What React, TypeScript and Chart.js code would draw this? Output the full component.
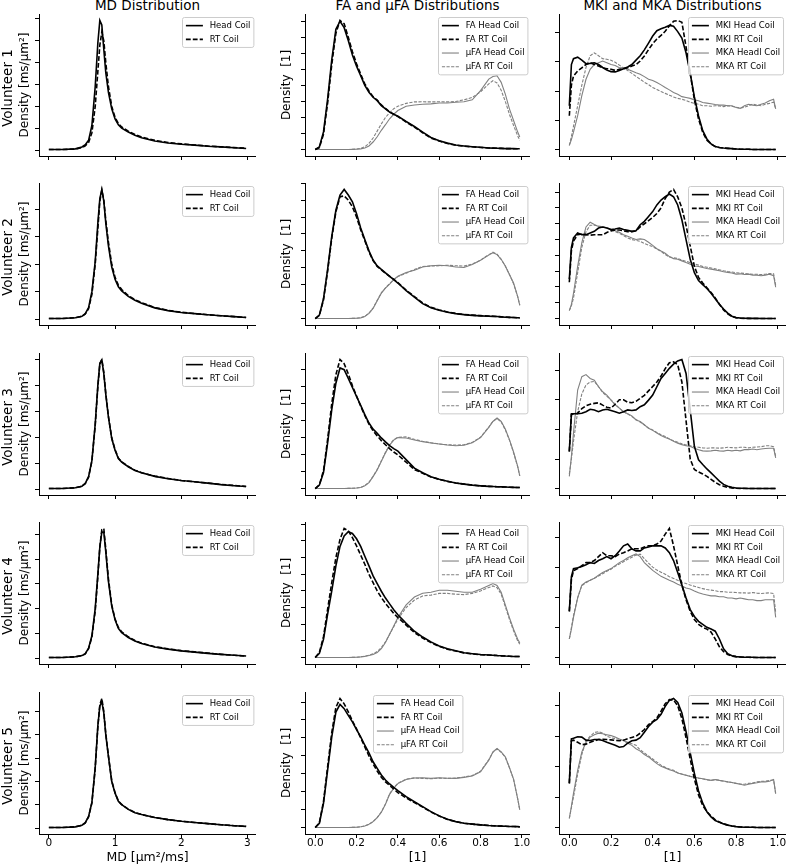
import React, { useEffect, useRef } from "react";
import { Chart, registerables } from "chart.js";

Chart.register(...registerables);

const FONT = '"DejaVu Sans", "Liberation Sans", sans-serif';

// ---------------- texts ----------------
const columnTitles = ["MD Distribution", "FA and µFA Distributions", "MKI and MKA Distributions"];
const volunteerLabels = ["Volunteer 1", "Volunteer 2", "Volunteer 3", "Volunteer 4", "Volunteer 5"];
const yTitles = ["Density [ms/µm²]", "Density  [1]", ""];
const xTitles = ["MD [µm²/ms]", "[1]", "[1]"];
const mdLabels = ["Head Coil", "RT Coil"];
const faLabels = ["FA Head Coil", "FA RT Coil", "µFA Head Coil", "µFA RT Coil"];
const mkLabels = ["MKI Head Coil", "MKI RT Coil", "MKA Headl Coil", "MKA RT Coil"];

// ---------------- x grids ----------------
const mdX = [0, 0.2, 0.4, 0.5, 0.55, 0.6, 0.65, 0.7, 0.74, 0.77, 0.8, 0.83, 0.86, 0.9, 0.95, 1.0, 1.05, 1.1, 1.2, 1.3, 1.4, 1.6, 1.8, 2.0, 2.2, 2.4, 2.6, 2.8, 2.98];
const faX = [0, 0.02, 0.04, 0.06, 0.08, 0.1, 0.12, 0.14, 0.16, 0.18, 0.2, 0.22, 0.24, 0.26, 0.28, 0.3, 0.32, 0.34, 0.36, 0.38, 0.4, 0.44, 0.48, 0.52, 0.56, 0.6, 0.64, 0.68, 0.72, 0.76, 0.8, 0.84, 0.86, 0.88, 0.9, 0.92, 0.94, 0.96, 0.98, 0.99];
const mkX = [0, 0.01, 0.02, 0.04, 0.06, 0.08, 0.1, 0.12, 0.14, 0.16, 0.18, 0.2, 0.22, 0.24, 0.26, 0.28, 0.3, 0.32, 0.34, 0.36, 0.38, 0.4, 0.42, 0.44, 0.46, 0.48, 0.5, 0.52, 0.54, 0.56, 0.58, 0.6, 0.62, 0.64, 0.66, 0.68, 0.7, 0.72, 0.74, 0.76, 0.78, 0.8, 0.82, 0.84, 0.86, 0.88, 0.9, 0.92, 0.94, 0.96, 0.98, 0.99];

// ---------------- MD ----------------
const md1Head = [0.03, 0.03, 0.06, 0.15, 0.25, 0.45, 1.13, 2.9, 4.9, 5.93, 5.73, 4.6, 3.54, 2.64, 1.89, 1.43, 1.16, 1.01, 0.83, 0.68, 0.57, 0.42, 0.33, 0.27, 0.23, 0.18, 0.15, 0.11, 0.08];
const md1RT = [0.03, 0.03, 0.05, 0.12, 0.2, 0.35, 0.8, 2.0, 3.6, 4.8, 5.4, 5.0, 4.0, 2.9, 2.0, 1.5, 1.22, 1.06, 0.87, 0.72, 0.6, 0.45, 0.35, 0.29, 0.24, 0.19, 0.15, 0.12, 0.09];
const md2Head = [0.02, 0.02, 0.05, 0.1, 0.2, 0.42, 1.0, 2.1, 3.5, 4.4, 4.73, 4.3, 3.5, 2.67, 1.9, 1.45, 1.18, 1.03, 0.83, 0.69, 0.58, 0.41, 0.31, 0.24, 0.2, 0.16, 0.12, 0.09, 0.06];
const md2RT = [0.02, 0.02, 0.05, 0.1, 0.19, 0.38, 0.9, 2.0, 3.3, 4.3, 4.7, 4.35, 3.6, 2.8, 2.0, 1.52, 1.24, 1.08, 0.86, 0.71, 0.6, 0.42, 0.32, 0.25, 0.2, 0.16, 0.12, 0.09, 0.06];
const md3Head = [0.02, 0.02, 0.05, 0.11, 0.22, 0.48, 1.1, 2.5, 4.0, 4.85, 4.98, 4.45, 3.65, 2.77, 1.95, 1.5, 1.18, 1.04, 0.86, 0.72, 0.63, 0.49, 0.4, 0.33, 0.28, 0.23, 0.17, 0.13, 0.1];
const md3RT = [0.02, 0.02, 0.05, 0.11, 0.21, 0.46, 1.08, 2.45, 3.95, 4.82, 5.0, 4.5, 3.68, 2.8, 1.97, 1.52, 1.2, 1.05, 0.87, 0.73, 0.63, 0.5, 0.41, 0.33, 0.28, 0.23, 0.18, 0.14, 0.1];
const md4Head = [0.02, 0.02, 0.05, 0.1, 0.18, 0.4, 0.9, 2.0, 3.4, 4.5, 5.1, 5.1, 4.3, 3.1, 2.1, 1.55, 1.2, 1.03, 0.83, 0.69, 0.59, 0.45, 0.36, 0.29, 0.24, 0.19, 0.15, 0.11, 0.08];
const md4RT = [0.02, 0.02, 0.05, 0.1, 0.17, 0.38, 0.85, 1.9, 3.3, 4.5, 5.2, 5.25, 4.4, 3.2, 2.15, 1.58, 1.24, 1.06, 0.86, 0.71, 0.6, 0.46, 0.37, 0.3, 0.25, 0.2, 0.15, 0.11, 0.08];
const md5Head = [0.02, 0.02, 0.05, 0.12, 0.23, 0.5, 1.1, 2.6, 4.4, 5.25, 5.43, 4.95, 4.0, 3.07, 2.0, 1.5, 1.15, 1.0, 0.8, 0.66, 0.58, 0.45, 0.36, 0.29, 0.24, 0.19, 0.14, 0.1, 0.07];
const md5RT = [0.02, 0.02, 0.05, 0.12, 0.22, 0.48, 1.08, 2.55, 4.35, 5.3, 5.57, 5.0, 4.05, 3.1, 2.02, 1.52, 1.16, 1.01, 0.81, 0.67, 0.58, 0.45, 0.36, 0.29, 0.24, 0.19, 0.14, 0.1, 0.07];

// ---------------- FA / µFA ----------------
const fa1Head = [0, 0.16, 1.1, 3.15, 5.6, 7.5, 8.0, 7.6, 6.8, 5.9, 5.2, 4.6, 4.0, 3.57, 3.26, 3.05, 2.74, 2.54, 2.33, 2.2, 2.08, 1.75, 1.44, 1.09, 0.75, 0.55, 0.4, 0.28, 0.22, 0.17, 0.14, 0.1, 0.09, 0.08, 0.07, 0.06, 0.06, 0.06, 0.05, 0.05];
const fa1RT = [0, 0.12, 0.95, 2.9, 5.3, 7.25, 8.05, 7.85, 7.0, 6.1, 5.35, 4.7, 4.1, 3.65, 3.3, 3.08, 2.78, 2.56, 2.35, 2.2, 2.06, 1.72, 1.4, 1.05, 0.72, 0.53, 0.38, 0.27, 0.21, 0.17, 0.13, 0.1, 0.09, 0.08, 0.07, 0.06, 0.06, 0.05, 0.05, 0.05];
const ufa1Head = [0, 0, 0, 0, 0, 0, 0, 0, 0, 0.01, 0.02, 0.04, 0.1, 0.22, 0.47, 0.8, 1.2, 1.55, 1.92, 2.2, 2.43, 2.7, 2.78, 2.82, 2.85, 2.9, 2.9, 2.95, 2.98, 3.1, 3.67, 4.39, 4.56, 4.6, 4.19, 3.46, 2.54, 1.81, 1.09, 0.78];
const ufa1RT = [0, 0, 0, 0, 0, 0, 0, 0, 0, 0.01, 0.03, 0.07, 0.17, 0.38, 0.72, 1.15, 1.6, 2.0, 2.3, 2.55, 2.7, 2.88, 2.97, 2.98, 2.97, 2.98, 2.97, 3.0, 3.1, 3.25, 3.6, 4.1, 4.29, 4.15, 3.7, 3.0, 2.2, 1.5, 0.85, 0.58];
const fa2Head = [0, 0.2, 1.17, 2.9, 4.86, 6.4, 7.3, 7.63, 7.3, 6.9, 6.2, 5.35, 4.67, 4.0, 3.46, 3.11, 2.9, 2.7, 2.49, 2.3, 2.1, 1.65, 1.26, 0.88, 0.64, 0.49, 0.37, 0.29, 0.23, 0.19, 0.16, 0.14, 0.13, 0.12, 0.1, 0.08, 0.07, 0.06, 0.05, 0.04];
const fa2RT = [0, 0.18, 1.1, 2.8, 4.75, 6.3, 7.2, 7.25, 7.0, 6.6, 6.0, 5.25, 4.6, 3.95, 3.42, 3.08, 2.88, 2.68, 2.5, 2.32, 2.12, 1.68, 1.3, 0.92, 0.67, 0.51, 0.39, 0.3, 0.24, 0.2, 0.17, 0.15, 0.14, 0.12, 0.1, 0.09, 0.07, 0.06, 0.05, 0.04];
const ufa2Head = [0, 0, 0, 0, 0, 0, 0, 0, 0, 0.01, 0.02, 0.04, 0.12, 0.3, 0.6, 1.05, 1.5, 1.8, 2.04, 2.3, 2.5, 2.72, 2.85, 3.05, 3.12, 3.15, 3.12, 3.05, 3.02, 3.2, 3.45, 3.75, 3.89, 3.78, 3.5, 3.11, 2.6, 2.1, 1.3, 0.78];
const ufa2RT = [0, 0, 0, 0, 0, 0, 0, 0, 0, 0.01, 0.02, 0.05, 0.13, 0.32, 0.62, 1.08, 1.52, 1.82, 2.06, 2.3, 2.48, 2.68, 2.9, 3.08, 3.1, 3.12, 3.15, 3.12, 3.1, 3.22, 3.45, 3.78, 3.92, 3.8, 3.5, 3.1, 2.6, 2.05, 1.3, 0.8];
const fa3Head = [0, 0.2, 0.94, 2.69, 4.64, 6.2, 7.1, 7.0, 6.49, 5.95, 5.42, 4.9, 4.35, 3.86, 3.5, 3.25, 2.98, 2.75, 2.53, 2.35, 2.2, 1.7, 1.2, 0.93, 0.7, 0.55, 0.43, 0.33, 0.26, 0.2, 0.16, 0.13, 0.12, 0.11, 0.1, 0.09, 0.08, 0.07, 0.06, 0.06];
const fa3RT = [0, 0.22, 1.05, 2.9, 5.0, 6.7, 7.6, 7.35, 6.75, 6.05, 5.45, 4.85, 4.3, 3.8, 3.4, 3.1, 2.82, 2.58, 2.35, 2.15, 1.98, 1.55, 1.12, 0.9, 0.68, 0.54, 0.42, 0.33, 0.26, 0.2, 0.16, 0.13, 0.12, 0.11, 0.1, 0.09, 0.08, 0.07, 0.06, 0.06];
const ufa3Head = [0, 0, 0, 0, 0, 0, 0, 0, 0.01, 0.02, 0.03, 0.06, 0.16, 0.35, 0.7, 1.1, 1.6, 2.1, 2.55, 2.85, 3.0, 2.98, 2.86, 2.76, 2.68, 2.62, 2.56, 2.52, 2.55, 2.69, 3.0, 3.6, 3.95, 4.15, 3.95, 3.5, 2.88, 2.15, 1.3, 0.74];
const ufa3RT = [0, 0, 0, 0, 0, 0, 0, 0, 0.01, 0.02, 0.03, 0.07, 0.17, 0.37, 0.72, 1.13, 1.63, 2.13, 2.58, 2.88, 3.02, 3.04, 2.9, 2.78, 2.7, 2.62, 2.58, 2.56, 2.58, 2.72, 3.02, 3.62, 3.96, 4.12, 3.92, 3.45, 2.85, 2.1, 1.28, 0.74];
const fa4Head = [0, 0.25, 1.1, 2.6, 4.0, 5.5, 6.67, 7.3, 7.55, 7.45, 7.13, 6.67, 6.08, 5.5, 4.9, 4.44, 3.98, 3.57, 3.22, 2.87, 2.57, 2.05, 1.58, 1.23, 0.94, 0.7, 0.53, 0.41, 0.29, 0.23, 0.18, 0.15, 0.14, 0.12, 0.11, 0.09, 0.08, 0.06, 0.06, 0.06];
const fa4RT = [0, 0.3, 1.25, 2.9, 4.5, 6.0, 7.1, 7.75, 7.6, 7.2, 6.7, 6.15, 5.6, 5.0, 4.5, 4.0, 3.6, 3.25, 2.95, 2.65, 2.4, 1.95, 1.5, 1.17, 0.9, 0.67, 0.5, 0.39, 0.28, 0.22, 0.17, 0.15, 0.13, 0.12, 0.1, 0.09, 0.08, 0.06, 0.06, 0.06];
const ufa4Head = [0, 0, 0, 0, 0, 0, 0, 0, 0, 0.01, 0.02, 0.04, 0.07, 0.12, 0.18, 0.3, 0.53, 0.9, 1.4, 1.9, 2.4, 3.16, 3.63, 3.86, 3.92, 4.04, 4.04, 3.98, 3.92, 3.92, 4.1, 4.33, 4.44, 4.33, 3.92, 3.16, 2.4, 1.7, 1.1, 0.88];
const ufa4RT = [0, 0, 0, 0, 0, 0, 0, 0, 0, 0.01, 0.02, 0.04, 0.08, 0.14, 0.22, 0.36, 0.6, 0.95, 1.4, 1.85, 2.3, 3.0, 3.45, 3.7, 3.75, 3.85, 3.85, 3.8, 3.78, 3.85, 4.0, 4.2, 4.3, 4.2, 3.8, 3.05, 2.3, 1.6, 1.0, 0.8];
const fa5Head = [0, 0.24, 1.35, 3.2, 5.06, 6.44, 6.87, 6.63, 6.26, 5.89, 5.46, 5.06, 4.59, 4.17, 3.67, 3.3, 2.93, 2.65, 2.43, 2.24, 2.06, 1.72, 1.44, 1.17, 0.89, 0.65, 0.46, 0.33, 0.24, 0.19, 0.15, 0.11, 0.1, 0.09, 0.08, 0.07, 0.06, 0.06, 0.05, 0.04];
const fa5RT = [0, 0.26, 1.45, 3.4, 5.3, 6.7, 7.2, 6.9, 6.45, 5.95, 5.5, 5.0, 4.5, 4.0, 3.55, 3.15, 2.8, 2.55, 2.35, 2.15, 1.95, 1.65, 1.4, 1.14, 0.87, 0.64, 0.45, 0.33, 0.24, 0.19, 0.15, 0.11, 0.1, 0.09, 0.08, 0.07, 0.06, 0.06, 0.05, 0.04];
const ufa5Head = [0, 0, 0, 0, 0, 0, 0, 0, 0, 0.01, 0.02, 0.04, 0.09, 0.18, 0.33, 0.55, 0.85, 1.3, 1.85, 2.2, 2.45, 2.68, 2.76, 2.78, 2.74, 2.78, 2.75, 2.74, 2.8, 2.87, 3.11, 3.76, 4.22, 4.41, 4.22, 3.94, 3.35, 2.7, 1.6, 0.98];
const ufa5RT = [0, 0, 0, 0, 0, 0, 0, 0, 0, 0.01, 0.02, 0.04, 0.09, 0.18, 0.33, 0.56, 0.87, 1.32, 1.88, 2.22, 2.47, 2.7, 2.77, 2.74, 2.72, 2.76, 2.74, 2.76, 2.82, 2.9, 3.14, 3.78, 4.2, 4.38, 4.2, 3.92, 3.33, 2.68, 1.6, 0.98];

// ---------------- MKI / MKA ----------------
const mki1Head = [1.5, 2.9, 3.1, 3.15, 3.05, 2.93, 2.94, 2.96, 2.9, 2.8, 2.71, 2.66, 2.65, 2.7, 2.76, 2.82, 2.9, 3.05, 3.2, 3.4, 3.63, 3.87, 4.05, 4.12, 4.17, 4.23, 4.2, 4.02, 3.8, 3.3, 2.6, 1.8, 1.15, 0.65, 0.37, 0.2, 0.11, 0.08, 0.06, 0.05, 0.04, 0.03, 0.02, 0.02, 0.02, 0.01, 0.01, 0.01, 0.01, 0.01, 0.01, 0.01];
const mki1RT = [1.16, 2.2, 2.51, 2.68, 2.79, 2.9, 2.96, 2.9, 2.85, 2.79, 2.76, 2.74, 2.7, 2.74, 2.76, 2.79, 2.85, 2.9, 3.02, 3.19, 3.41, 3.61, 3.77, 3.89, 4.03, 4.22, 4.37, 4.4, 4.34, 3.5, 2.6, 1.7, 1.05, 0.6, 0.33, 0.2, 0.11, 0.08, 0.06, 0.05, 0.04, 0.03, 0.02, 0.02, 0.02, 0.01, 0.01, 0.01, 0.01, 0.01, 0.01, 0.01];
const mka1Head = [0.15, 0.35, 0.6, 1.16, 1.84, 2.4, 2.74, 2.9, 2.96, 3.02, 2.96, 2.9, 2.87, 2.79, 2.79, 2.74, 2.68, 2.62, 2.57, 2.49, 2.4, 2.36, 2.29, 2.21, 2.12, 2.04, 1.95, 1.89, 1.81, 1.78, 1.75, 1.7, 1.67, 1.61, 1.59, 1.57, 1.54, 1.52, 1.52, 1.5, 1.5, 1.44, 1.41, 1.5, 1.55, 1.52, 1.5, 1.55, 1.59, 1.67, 1.72, 1.39];
const mka1RT = [0.15, 0.45, 0.8, 1.5, 2.2, 2.8, 3.2, 3.3, 3.2, 3.1, 3.08, 3.05, 2.98, 2.88, 2.78, 2.7, 2.6, 2.5, 2.4, 2.3, 2.22, 2.12, 2.05, 1.98, 1.92, 1.86, 1.8, 1.75, 1.72, 1.68, 1.62, 1.58, 1.55, 1.5, 1.5, 1.48, 1.5, 1.49, 1.47, 1.5, 1.48, 1.45, 1.42, 1.45, 1.5, 1.56, 1.52, 1.5, 1.55, 1.58, 1.62, 1.4];
const mki2Head = [2.5, 4.5, 5.1, 5.42, 5.31, 5.31, 5.42, 5.52, 5.73, 5.79, 5.73, 5.63, 5.67, 5.73, 5.63, 5.58, 5.52, 5.56, 5.94, 6.15, 6.46, 6.77, 7.19, 7.5, 7.71, 7.88, 7.71, 7.19, 6.25, 5.0, 3.75, 2.9, 2.4, 2.15, 1.9, 1.6, 1.25, 0.9, 0.6, 0.35, 0.15, 0.06, 0.03, 0.02, 0.01, 0.01, 0.01, 0, 0, 0, 0, 0];
const mki2RT = [2.3, 4.3, 4.9, 5.3, 5.35, 5.3, 5.28, 5.3, 5.3, 5.3, 5.45, 5.55, 5.6, 5.6, 5.55, 5.5, 5.5, 5.55, 5.8, 6.0, 6.2, 6.4, 6.65, 7.0, 7.6, 8.0, 8.17, 7.7, 7.0, 5.9, 4.6, 3.3, 2.6, 2.25, 1.95, 1.65, 1.3, 0.9, 0.55, 0.3, 0.13, 0.05, 0.02, 0.01, 0.01, 0, 0, 0, 0, 0, 0, 0];
const mka2Head = [0.52, 0.9, 1.6, 3.3, 4.8, 5.8, 6.1, 5.95, 5.82, 5.79, 5.73, 5.63, 5.56, 5.46, 5.31, 5.21, 5.1, 5.0, 5.04, 5.0, 4.83, 4.63, 4.42, 4.27, 4.13, 3.92, 3.79, 3.75, 3.65, 3.54, 3.44, 3.33, 3.29, 3.23, 3.17, 3.13, 3.08, 3.02, 2.96, 2.92, 2.88, 2.81, 2.83, 2.79, 2.81, 2.75, 2.75, 2.71, 2.75, 2.81, 2.71, 1.98];
const mka2RT = [0.5, 0.8, 1.3, 2.9, 4.5, 5.5, 5.9, 5.9, 5.85, 5.8, 5.75, 5.65, 5.5, 5.4, 5.25, 5.1, 5.0, 4.95, 4.88, 4.75, 4.65, 4.55, 4.4, 4.25, 4.05, 3.9, 3.85, 3.8, 3.7, 3.62, 3.55, 3.45, 3.38, 3.3, 3.25, 3.2, 3.15, 3.08, 3.02, 2.98, 2.95, 2.9, 2.88, 2.86, 2.82, 2.8, 2.8, 2.78, 2.8, 2.85, 2.83, 2.1];
const mki3Head = [1.26, 2.53, 2.53, 2.53, 2.55, 2.6, 2.68, 2.66, 2.6, 2.66, 2.68, 2.64, 2.6, 2.55, 2.6, 2.66, 2.64, 2.66, 2.77, 2.83, 2.99, 3.16, 3.44, 3.72, 3.89, 4.06, 4.2, 4.31, 4.36, 3.89, 2.66, 1.43, 0.98, 0.82, 0.67, 0.54, 0.4, 0.26, 0.15, 0.09, 0.05, 0.03, 0.02, 0.02, 0.01, 0.01, 0.01, 0.01, 0.01, 0.01, 0.01, 0.01];
const mki3RT = [1.26, 2.5, 2.53, 2.55, 2.7, 2.8, 2.85, 2.88, 2.9, 2.82, 2.75, 2.72, 2.85, 3.0, 3.0, 2.92, 2.9, 2.95, 3.05, 3.15, 3.3, 3.45, 3.6, 3.8, 4.05, 4.25, 4.28, 4.18, 3.6, 2.3, 1.0, 0.65, 0.57, 0.5, 0.42, 0.32, 0.22, 0.14, 0.09, 0.05, 0.03, 0.02, 0.01, 0.01, 0.01, 0.01, 0.01, 0.01, 0.01, 0.01, 0.01, 0.01];
const mka3Head = [0.42, 1.1, 1.88, 3.33, 3.78, 3.85, 3.72, 3.66, 3.44, 3.27, 3.16, 2.99, 2.83, 2.72, 2.6, 2.53, 2.46, 2.32, 2.27, 2.16, 2.04, 1.97, 1.88, 1.8, 1.73, 1.68, 1.6, 1.54, 1.49, 1.45, 1.43, 1.37, 1.32, 1.28, 1.27, 1.28, 1.3, 1.28, 1.27, 1.3, 1.28, 1.3, 1.28, 1.32, 1.32, 1.34, 1.32, 1.34, 1.36, 1.37, 1.37, 1.04];
const mka3RT = [0.5, 1.0, 1.6, 2.6, 3.2, 3.5, 3.6, 3.62, 3.45, 3.25, 3.12, 3.0, 2.85, 2.72, 2.6, 2.52, 2.44, 2.34, 2.25, 2.15, 2.05, 1.98, 1.9, 1.82, 1.76, 1.68, 1.62, 1.57, 1.52, 1.48, 1.45, 1.42, 1.4, 1.38, 1.37, 1.38, 1.38, 1.37, 1.38, 1.4, 1.39, 1.38, 1.4, 1.4, 1.38, 1.4, 1.41, 1.42, 1.45, 1.45, 1.42, 1.1];
const mki4Head = [1.54, 2.7, 2.97, 3.0, 3.04, 3.1, 3.17, 3.14, 3.24, 3.3, 3.37, 3.3, 3.4, 3.56, 3.73, 3.79, 3.63, 3.56, 3.56, 3.66, 3.69, 3.73, 3.73, 3.73, 3.66, 3.5, 3.24, 2.84, 2.42, 1.99, 1.6, 1.37, 1.21, 1.11, 1.01, 0.95, 0.88, 0.62, 0.29, 0.13, 0.06, 0.03, 0.02, 0.01, 0.01, 0.01, 0, 0, 0, 0, 0, 0];
const mki4RT = [1.54, 2.6, 2.9, 2.97, 3.07, 3.17, 3.17, 3.24, 3.37, 3.5, 3.4, 3.4, 3.37, 3.46, 3.5, 3.56, 3.63, 3.63, 3.63, 3.69, 3.73, 3.73, 3.79, 3.89, 4.12, 4.31, 3.73, 3.07, 2.42, 1.93, 1.54, 1.27, 1.11, 1.01, 0.95, 0.85, 0.62, 0.36, 0.2, 0.1, 0.05, 0.03, 0.02, 0.01, 0.01, 0, 0, 0, 0, 0, 0, 0];
const mka4Head = [0.62, 0.95, 1.34, 1.99, 2.42, 2.52, 2.58, 2.65, 2.75, 2.84, 2.91, 2.97, 3.07, 3.17, 3.24, 3.33, 3.4, 3.46, 3.37, 3.17, 3.04, 2.91, 2.81, 2.71, 2.65, 2.58, 2.52, 2.45, 2.39, 2.32, 2.29, 2.22, 2.16, 2.12, 2.09, 2.06, 2.06, 2.03, 2.03, 1.99, 1.99, 1.96, 1.99, 1.96, 1.93, 1.93, 1.9, 1.9, 1.93, 1.93, 1.93, 1.34];
const mka4RT = [0.62, 1.0, 1.4, 2.0, 2.4, 2.5, 2.58, 2.65, 2.72, 2.8, 2.88, 2.95, 3.05, 3.12, 3.2, 3.28, 3.35, 3.42, 3.45, 3.3, 3.15, 3.02, 2.92, 2.85, 2.78, 2.7, 2.64, 2.58, 2.52, 2.47, 2.42, 2.38, 2.34, 2.3, 2.27, 2.25, 2.23, 2.2, 2.2, 2.18, 2.18, 2.17, 2.16, 2.16, 2.15, 2.17, 2.15, 2.14, 2.15, 2.16, 2.14, 1.5];
const mki5Head = [1.45, 2.91, 2.93, 2.98, 2.97, 2.87, 2.86, 2.89, 2.89, 2.86, 2.8, 2.75, 2.7, 2.64, 2.66, 2.77, 2.85, 2.87, 2.95, 3.13, 3.32, 3.46, 3.55, 3.72, 3.98, 4.18, 4.24, 4.11, 3.76, 3.15, 2.45, 1.78, 1.2, 0.8, 0.52, 0.35, 0.23, 0.17, 0.12, 0.08, 0.05, 0.03, 0.02, 0.01, 0.01, 0.01, 0, 0, 0, 0, 0, 0];
const mki5RT = [1.45, 2.85, 2.87, 2.8, 2.72, 2.74, 2.8, 2.85, 2.89, 2.9, 2.89, 2.88, 2.86, 2.85, 2.87, 2.92, 2.96, 3.0, 3.1, 3.22, 3.38, 3.48, 3.6, 3.82, 4.07, 4.2, 4.19, 4.0, 3.58, 2.95, 2.25, 1.6, 1.07, 0.72, 0.52, 0.38, 0.25, 0.18, 0.12, 0.08, 0.05, 0.03, 0.02, 0.01, 0.01, 0.01, 0, 0, 0, 0, 0, 0];
const mka5Head = [0.3, 0.7, 1.12, 1.88, 2.48, 2.8, 2.97, 3.05, 3.1, 3.08, 3.05, 3.02, 2.97, 2.91, 2.86, 2.77, 2.7, 2.59, 2.51, 2.4, 2.32, 2.21, 2.1, 2.01, 1.96, 1.9, 1.86, 1.79, 1.75, 1.72, 1.68, 1.65, 1.63, 1.6, 1.58, 1.55, 1.58, 1.55, 1.53, 1.5, 1.48, 1.45, 1.42, 1.39, 1.42, 1.45, 1.47, 1.5, 1.5, 1.52, 1.58, 1.12];
const mka5RT = [0.3, 0.65, 1.0, 1.75, 2.4, 2.85, 3.0, 3.12, 3.15, 3.1, 3.0, 2.95, 2.92, 2.9, 2.85, 2.8, 2.75, 2.7, 2.55, 2.45, 2.35, 2.25, 2.15, 2.05, 1.98, 1.92, 1.88, 1.8, 1.76, 1.72, 1.68, 1.66, 1.62, 1.6, 1.56, 1.55, 1.57, 1.55, 1.52, 1.5, 1.48, 1.45, 1.43, 1.42, 1.45, 1.46, 1.5, 1.52, 1.52, 1.55, 1.56, 1.1];

// ---------------- grouping ----------------
const mdHead = [md1Head, md2Head, md3Head, md4Head, md5Head];
const mdRT = [md1RT, md2RT, md3RT, md4RT, md5RT];
const faHead = [fa1Head, fa2Head, fa3Head, fa4Head, fa5Head];
const faRT = [fa1RT, fa2RT, fa3RT, fa4RT, fa5RT];
const ufaHead = [ufa1Head, ufa2Head, ufa3Head, ufa4Head, ufa5Head];
const ufaRT = [ufa1RT, ufa2RT, ufa3RT, ufa4RT, ufa5RT];
const mkiHead = [mki1Head, mki2Head, mki3Head, mki4Head, mki5Head];
const mkiRT = [mki1RT, mki2RT, mki3RT, mki4RT, mki5RT];
const mkaHead = [mka1Head, mka2Head, mka3Head, mka4Head, mka5Head];
const mkaRT = [mka1RT, mka2RT, mka3RT, mka4RT, mka5RT];

// ---------------- styles / layout ----------------
const STYLE_BLACK = { color: "#000000", width: 1.6, dash: [] as number[] };
const STYLE_BLACK_DASH = { color: "#000000", width: 1.6, dash: [4.8, 2.1] };
const STYLE_GRAY = { color: "#808080", width: 1.1, dash: [] as number[] };
const STYLE_GRAY_DASH = { color: "#808080", width: 1.1, dash: [3.2, 1.4] };

const COL_SPINE = [39, 305, 559];
const COL_RIGHT = [256, 530, 786];
const COL_YAXIS_W = [36, 36, 10];
const COL_YTITLE_PAD = [15.1, 10.6, 0];
const ROW_TOP = [14, 183, 353, 522, 692];
const AX_H = 142;
const PAGE_H = 865;

function panelSeries(r: number, c: number) {
  if (c === 0) {
    return [
      { label: mdLabels[0], x: mdX, y: mdHead[r], st: STYLE_BLACK },
      { label: mdLabels[1], x: mdX, y: mdRT[r], st: STYLE_BLACK_DASH },
    ];
  }
  if (c === 1) {
    return [
      { label: faLabels[0], x: faX, y: faHead[r], st: STYLE_BLACK },
      { label: faLabels[1], x: faX, y: faRT[r], st: STYLE_BLACK_DASH },
      { label: faLabels[2], x: faX, y: ufaHead[r], st: STYLE_GRAY },
      { label: faLabels[3], x: faX, y: ufaRT[r], st: STYLE_GRAY_DASH },
    ];
  }
  return [
    { label: mkLabels[0], x: mkX, y: mkiHead[r], st: STYLE_BLACK },
    { label: mkLabels[1], x: mkX, y: mkiRT[r], st: STYLE_BLACK_DASH },
    { label: mkLabels[2], x: mkX, y: mkaHead[r], st: STYLE_GRAY },
    { label: mkLabels[3], x: mkX, y: mkaRT[r], st: STYLE_GRAY_DASH },
  ];
}

function limits(vals: number[]) {
  let mn = Infinity;
  let mx = -Infinity;
  for (const v of vals) {
    if (v < mn) mn = v;
    if (v > mx) mx = v;
  }
  const m = (mx - mn) * 0.05;
  return [mn - m, mx + m];
}

// matplotlib-like legend drawn inside the axes
const mplLegendPlugin = {
  id: "mplLegend",
  afterDraw(chart: any, _args: any, opts: any) {
    if (!opts || !opts.loc) return;
    const ctx = chart.ctx;
    const a = chart.chartArea;
    const fs = opts.fontSize;
    const ds = chart.data.datasets;
    ctx.save();
    ctx.font = `${fs}px ${FONT}`;
    let tw = 0;
    ds.forEach((d: any) => {
      tw = Math.max(tw, ctx.measureText(d.label).width);
    });
    const bp = 0.4 * fs;
    const hl = 2 * fs;
    const hp = 0.8 * fs;
    const ls = 0.5 * fs;
    const rh = opts.rowHeight;
    const w = bp * 2 + hl + hp + tw;
    const h = bp * 2 + ds.length * rh + (ds.length - 1) * ls;
    let x = opts.loc === "upper center" ? (a.left + a.right) / 2 - w / 2 : a.right - opts.padRight - w;
    x = Math.round(x) + 0.5;
    const y = Math.round(a.top + opts.padTop) + 0.5;
    const rad = 2;
    ctx.beginPath();
    ctx.moveTo(x + rad, y);
    ctx.lineTo(x + w - rad, y);
    ctx.arcTo(x + w, y, x + w, y + rad, rad);
    ctx.lineTo(x + w, y + h - rad);
    ctx.arcTo(x + w, y + h, x + w - rad, y + h, rad);
    ctx.lineTo(x + rad, y + h);
    ctx.arcTo(x, y + h, x, y + h - rad, rad);
    ctx.lineTo(x, y + rad);
    ctx.arcTo(x, y, x + rad, y, rad);
    ctx.closePath();
    ctx.fillStyle = "rgba(255,255,255,0.8)";
    ctx.fill();
    ctx.strokeStyle = "#cccccc";
    ctx.lineWidth = 1;
    ctx.stroke();
    ds.forEach((d: any, i: number) => {
      const cy = y + bp + i * (rh + ls) + rh / 2;
      ctx.beginPath();
      ctx.setLineDash(d.borderDash || []);
      ctx.strokeStyle = d.borderColor;
      ctx.lineWidth = d.borderWidth;
      ctx.moveTo(x + bp, cy);
      ctx.lineTo(x + bp + hl, cy);
      ctx.stroke();
      ctx.setLineDash([]);
      ctx.fillStyle = "#000000";
      ctx.textBaseline = "middle";
      ctx.textAlign = "left";
      ctx.fillText(d.label, x + bp + hl + hp, cy);
    });
    ctx.restore();
  },
};

function Panel({ r, c }: { r: number; c: number }) {
  const ref = useRef<HTMLCanvasElement | null>(null);
  const left = COL_SPINE[c] - COL_YAXIS_W[c];
  const width = COL_RIGHT[c] - left;
  const isBottom = r === 4;
  const xH = isBottom ? PAGE_H - (ROW_TOP[4] + AX_H) : 6;
  const height = AX_H + xH;

  useEffect(() => {
    const series = panelSeries(r, c);
    const allX: number[] = [];
    const allY: number[] = [];
    series.forEach((s) => {
      allX.push(...s.x);
      allY.push(...s.y);
    });
    const [xmin, xmax] = limits(allX);
    const [ymin, ymax] = limits(allY);
    const datasets = series.map((s) => ({
      label: s.label,
      data: s.x.map((xv, i) => ({ x: xv, y: s.y[i] })),
      borderColor: s.st.color,
      borderWidth: s.st.width,
      borderDash: s.st.dash,
      pointRadius: 0,
      fill: false,
      tension: 0,
    }));
    const loc = r === 4 && c === 1 ? "upper center" : "upper right";
    const yW = COL_YAXIS_W[c];
    const chart = new Chart(ref.current as HTMLCanvasElement, {
      type: "line",
      data: { datasets },
      options: {
        animation: false,
        responsive: false,
        devicePixelRatio: 1,
        events: [],
        layout: { padding: 0 },
        plugins: {
          legend: { display: false },
          tooltip: { enabled: false },
          title: { display: false },
          mplLegend: { loc, fontSize: 8.5, rowHeight: 9.45, padTop: 3, padRight: 2.5 },
        } as any,
        scales: {
          x: {
            type: "linear",
            min: xmin,
            max: xmax,
            border: { display: true, color: "#000000", width: 1 },
            grid: { display: true, drawOnChartArea: false, drawTicks: true, tickLength: 4, color: "#000000", lineWidth: 1 },
            ticks: {
              display: isBottom,
              stepSize: c === 0 ? 1 : 0.2,
              includeBounds: false,
              autoSkip: false,
              maxRotation: 0,
              minRotation: 0,
              padding: 0,
              color: "#000000",
              font: { family: FONT, size: 10.5, lineHeight: 1.05 },
              callback: (v: any) => (c === 0 ? String(Math.round(Number(v))) : Number(v).toFixed(1)),
            },
            title: {
              display: isBottom,
              text: xTitles[c],
              color: "#000000",
              font: { family: FONT, size: 12.5, lineHeight: 1.2 },
              padding: { top: 0, bottom: 0 },
            },
            afterFit: (s: any) => {
              s.height = xH;
              s.paddingLeft = 0;
              s.paddingRight = 0;
            },
          },
          y: {
            type: "linear",
            min: ymin,
            max: ymax,
            border: { display: true, color: "#000000", width: 1 },
            grid: { display: true, drawOnChartArea: false, drawTicks: true, tickLength: 4, color: "#000000", lineWidth: 1 },
            ticks: { display: false, stepSize: 1, includeBounds: false, font: { size: 6 } },
            title: {
              display: yTitles[c] !== "",
              text: yTitles[c],
              color: "#000000",
              font: { family: FONT, size: 12, lineHeight: 1.2 },
              padding: { top: COL_YTITLE_PAD[c], bottom: 0 },
            },
            afterFit: (s: any) => {
              s.width = yW;
              s.paddingTop = 0;
              s.paddingBottom = 0;
            },
          },
        },
      } as any,
      plugins: [mplLegendPlugin as any],
    });
    return () => chart.destroy();
  }, [r, c]);

  return (
    <canvas
      ref={ref}
      width={width}
      height={height}
      style={{ position: "absolute", left, top: ROW_TOP[r], width, height, display: "block" }}
    />
  );
}

export default function App() {
  const panels: React.ReactNode[] = [];
  for (let r = 0; r < 5; r++) {
    for (let c = 0; c < 3; c++) {
      panels.push(<Panel key={`p${r}-${c}`} r={r} c={c} />);
    }
  }
  return (
    <div
      style={{
        position: "absolute",
        left: 0,
        top: 0,
        width: 787,
        height: 865,
        overflow: "hidden",
        background: "#ffffff",
        fontFamily: FONT,
        color: "#000000",
      }}
    >
      {panels}
      {columnTitles.map((t, c) => {
        const cx = (COL_SPINE[c] + COL_RIGHT[c]) / 2;
        return (
          <div
            key={`t${c}`}
            style={{
              position: "absolute",
              left: cx - 150,
              width: 300,
              top: -3.4,
              height: 16,
              lineHeight: "16px",
              fontSize: 13.5,
              textAlign: "center",
              whiteSpace: "nowrap",
            }}
          >
            {t}
          </div>
        );
      })}
      {volunteerLabels.map((t, r) => {
        const cy = ROW_TOP[r] + AX_H / 2 + 3;
        const cx = 6.6;
        return (
          <div
            key={`v${r}`}
            style={{
              position: "absolute",
              left: cx - 100,
              top: cy - 8,
              width: 200,
              height: 16,
              lineHeight: "16px",
              fontSize: 13.5,
              textAlign: "center",
              whiteSpace: "nowrap",
              transform: "rotate(-90deg)",
              transformOrigin: "50% 50%",
            }}
          >
            {t}
          </div>
        );
      })}
    </div>
  );
}
